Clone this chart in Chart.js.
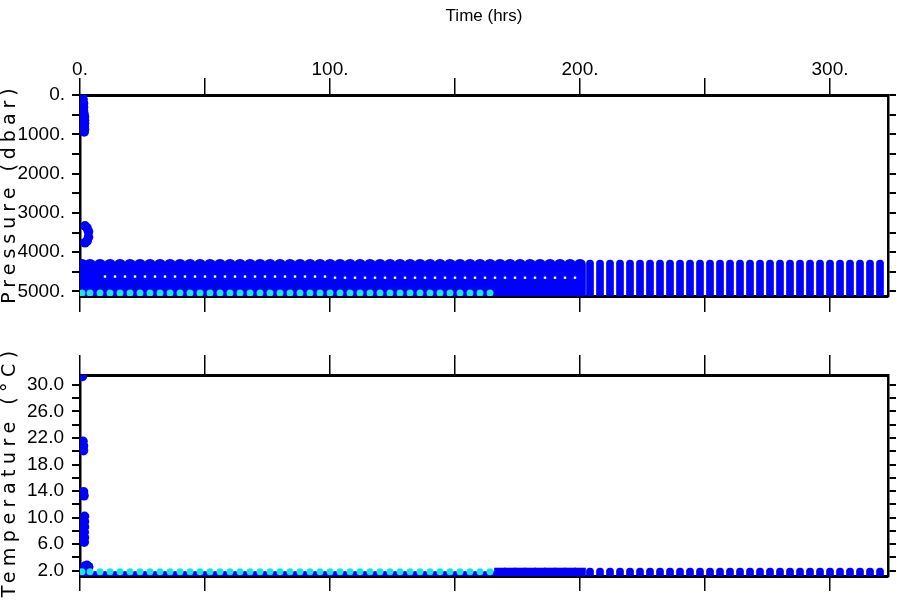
<!DOCTYPE html>
<html>
<head>
<meta charset="utf-8">
<script src="https://cdn.jsdelivr.net/npm/chart.js@4.4.1/dist/chart.umd.min.js"></script>
<style>
  html, body { margin: 0; padding: 0; background: #fff; }
  #wrap { position: relative; width: 900px; height: 600px; overflow: hidden; }
  canvas { position: absolute; left: 0; }
  #pres { top: 0; }
  #temp { top: 340px; }
</style>
</head>
<body>
<div id="wrap">
  <canvas id="pres" width="900" height="340"></canvas>
  <canvas id="temp" width="900" height="260"></canvas>
</div>
<script>
// ---- data ----
const timeTicks = [0, 50, 100, 150, 200, 250, 300];
const timeLabels = [0, 100, 200, 300];
const pressureTicks = [0, 500, 1000, 1500, 2000, 2500, 3000, 3500, 4000, 4500, 5000];
const pressureLabels = [0, 1000, 2000, 3000, 4000, 5000];
const tempTicks = [2, 4, 6, 8, 10, 12, 14, 16, 18, 20, 22, 24, 26, 28, 30];
const tempLabels = [2, 6, 10, 14, 18, 22, 26, 30];

// first descent samples
const earlyTime     = [1.0, 1.2, 1.4, 1.4, 1.4, 1.6, 1.8, 1.8, 1.8, 1.7, 1.8, 1.7, 2.0, 2.8, 3.4, 3.4, 2.8, 2.0];
const earlyPressure = [10, 110, 210, 310, 400, 480, 560, 640, 720, 800, 880, 940, 3330, 3380, 3480, 3620, 3720, 3760];
const earlyTemp     = [31.3, 21.5, 20.8, 20.1, 13.9, 13.3, 10.2, 9.4, 8.6, 7.8, 7.0, 6.3, 2.7, 2.8, 2.6, 2.5, 2.5, 2.4];

// cycles up to 200 hrs (touching columns)
const mergedTimes = [0.8, 4, 8, 12, 16, 20, 24, 28, 32, 36, 40, 44, 48, 52, 56, 60, 64, 68, 72, 76,
  80, 84, 88, 92, 96, 100, 104, 108, 112, 116, 120, 124, 128, 132, 136, 140, 144, 148, 152, 156,
  160, 164, 168, 172, 176, 180, 184, 188, 192, 196, 200];
const mergedTopPressure = [4180, 4180, 4180, 4180, 4180, 4180, 4180, 4180, 4180, 4180, 4180, 4180, 4180,
  4180, 4180, 4180, 4180, 4180, 4180, 4180, 4180, 4180, 4180, 4180, 4180, 4180, 4180, 4180, 4180, 4180,
  4180, 4180, 4180, 4180, 4180, 4180, 4180, 4180, 4180, 4180, 4180, 4180, 4180, 4180, 4180, 4180, 4180,
  4180, 4180, 4180, 4180];
const mergedTopTemp = [1.85, 1.85, 1.85, 1.85, 1.85, 1.85, 1.85, 1.85, 1.85, 1.85, 1.85, 1.85, 1.85, 1.85,
  1.85, 1.85, 1.85, 1.85, 1.85, 1.85, 1.85, 1.85, 1.85, 1.85, 1.85, 1.85, 1.85, 1.85, 1.85, 1.85, 1.85,
  1.85, 1.85, 1.85, 1.85, 1.85, 1.85, 1.85, 1.85, 1.85, 1.85, 1.85,
  2.4, 2.4, 2.4, 2.4, 2.4, 2.4, 2.4, 2.4, 2.4];

// cycles after 200 hrs (separate columns)
const separateTimes = [204, 208, 212, 216, 220, 224, 228, 232, 236, 240, 244, 248, 252, 256, 260,
  264, 268, 272, 276, 280, 284, 288, 292, 296, 300, 304, 308, 312, 316, 320];
const separateTopPressure = [4200, 4200, 4200, 4200, 4200, 4200, 4200, 4200, 4200, 4200, 4200, 4200,
  4200, 4200, 4200, 4200, 4200, 4200, 4200, 4200, 4200, 4200, 4200, 4200, 4200, 4200, 4200, 4200, 4200, 4200];
const separateTopTemp = [2.4, 2.4, 2.4, 2.4, 2.4, 2.4, 2.4, 2.4, 2.4, 2.4, 2.4, 2.4, 2.4, 2.4, 2.4,
  2.4, 2.4, 2.4, 2.4, 2.4, 2.4, 2.4, 2.4, 2.4, 2.4, 2.4, 2.4, 2.4, 2.4, 2.4];

// white markers (mid column)
const whiteTimes = [10, 14, 18, 22, 26, 30, 34, 38, 42, 46, 50, 54, 58, 62, 66, 70, 74, 78, 82, 86, 90,
  94, 98, 102, 106, 110, 114, 118, 122, 126, 130, 134, 138, 142, 146, 150, 154, 158, 162, 166, 170,
  174, 178, 182, 186, 190, 194, 198];
const whitePressure = [4620, 4620, 4620, 4620, 4620, 4620, 4620, 4620, 4620, 4620, 4620, 4620, 4620,
  4620, 4620, 4620, 4620, 4620, 4620, 4620, 4620, 4620, 4620, 4650, 4650, 4650, 4650, 4650, 4650, 4650,
  4650, 4650, 4650, 4650, 4650, 4650, 4650, 4650, 4650, 4650, 4650, 4650, 4650, 4650, 4650, 4650, 4650, 4650];

// cyan markers (bottom)
const cyanTimes = [0.8, 4, 8, 12, 16, 20, 24, 28, 32, 36, 40, 44, 48, 52, 56, 60, 64, 68, 72, 76,
  80, 84, 88, 92, 96, 100, 104, 108, 112, 116, 120, 124, 128, 132, 136, 140, 144, 148, 152, 156, 160, 164];
const cyanPressure = [5040, 5040, 5040, 5040, 5040, 5040, 5040, 5040, 5040, 5040, 5040, 5040, 5040, 5040,
  5040, 5040, 5040, 5040, 5040, 5040, 5040, 5040, 5040, 5040, 5040, 5040, 5040, 5040, 5040, 5040, 5040,
  5040, 5040, 5040, 5040, 5040, 5040, 5040, 5040, 5040, 5040, 5040];
const cyanTemp = [1.85, 1.85, 1.85, 1.85, 1.85, 1.85, 1.85, 1.85, 1.85, 1.85, 1.85, 1.85, 1.85, 1.85,
  1.85, 1.85, 1.85, 1.85, 1.85, 1.85, 1.85, 1.85, 1.85, 1.85, 1.85, 1.85, 1.85, 1.85, 1.85, 1.85, 1.85,
  1.85, 1.85, 1.85, 1.85, 1.85, 1.85, 1.85, 1.85, 1.85, 1.85, 1.85];

const pressureBottom = 5115;
const tempBottom = 1.2;

// ---- styling ----
const tickFont = "'Liberation Sans', Arimo, sans-serif";
const blue = '#0000ff';
const cyan = '#1ee3ec';
Chart.defaults.font.family = tickFont;
Chart.defaults.color = '#000';

function fixSize(px) {
  return function (scale) {
    if (scale.isHorizontal()) scale.height = px; else scale.width = px;
  };
}
function setTicks(values) {
  return function (scale) { scale.ticks = values.map(v => ({ value: v })); };
}
function pts(xs, ys) { return xs.map((x, i) => ({ x: x, y: ys[i] })); }
function bars(xs, tops, base) { return xs.map((x, i) => ({ x: x, y: [tops[i], base] })); }

const sideTitle = {
  id: 'sideTitle',
  afterDraw(chart, args, opts) {
    const ctx = chart.ctx;
    ctx.save();
    ctx.translate(opts.x, opts.y);
    ctx.rotate(-Math.PI / 2);
    ctx.font = "19px 'DejaVu Sans'";
    ctx.letterSpacing = opts.spacing + 'px';
    ctx.fillStyle = '#000';
    ctx.textAlign = 'center';
    ctx.textBaseline = 'middle';
    ctx.fillText(opts.text, opts.spacing / 2, 0);
    ctx.restore();
  }
};

function xAxis(pos, size, tickLen, withLabels) {
  return {
    type: 'linear', position: pos, min: 0, max: 323.2, offset: false, z: 1,
    afterBuildTicks: setTicks(timeTicks), afterFit: fixSize(size),
    ticks: {
      display: withLabels, autoSkip: false, maxRotation: 0, padding: -3,
      font: { size: 19 },
      callback: v => timeLabels.includes(v) ? v + '.' : ''
    },
    grid: { drawOnChartArea: false, drawTicks: true, tickLength: tickLen, color: '#000', lineWidth: 1.5, offset: false },
    border: { display: true, color: '#000', width: 3 }
  };
}
function yAxis(pos, min, max, rev, tickVals, labelFn, size, pad) {
  return {
    type: 'linear', position: pos, min: min, max: max, reverse: rev, z: 1,
    afterBuildTicks: setTicks(tickVals), afterFit: fixSize(size),
    ticks: { display: !!labelFn, autoSkip: false, padding: pad, font: { size: 19 }, callback: labelFn || (() => '') },
    grid: { drawOnChartArea: false, drawTicks: true, tickLength: 8, color: '#000', lineWidth: 2 },
    border: { display: true, color: '#000', width: 2.5 }
  };
}

const baseOptions = {
  responsive: false, animation: false, devicePixelRatio: 1,
  layout: { padding: 0 },
  plugins: { legend: { display: false }, tooltip: { enabled: false } }
};

// ---- pressure panel ----
const xTop = xAxis('top', 95, 17, true);
xTop.title = { display: true, text: 'Time (hrs)', font: { size: 17 }, padding: { top: 6, bottom: 0 } };

new Chart(document.getElementById('pres'), {
  type: 'bar',
  data: {
    datasets: [
      { type: 'scatter', data: pts(cyanTimes, cyanPressure), pointRadius: 3.5, backgroundColor: cyan, borderWidth: 0, clip: 0 },
      { type: 'scatter', data: pts(whiteTimes, whitePressure), pointStyle: 'rect', pointRadius: 1.7, backgroundColor: '#fff', borderWidth: 0, clip: 0 },
      { type: 'scatter', data: pts(earlyTime, earlyPressure), pointRadius: 4.8, backgroundColor: blue, borderWidth: 0, clip: 0 },
      { type: 'bar', data: bars(mergedTimes, mergedTopPressure, pressureBottom), barThickness: 11, grouped: false,
        borderSkipped: false, borderRadius: { topLeft: 5.5, topRight: 5.5, bottomLeft: 0, bottomRight: 0 },
        backgroundColor: blue, clip: 0 },
      { type: 'bar', data: bars(separateTimes, separateTopPressure, pressureBottom), barThickness: 7, grouped: false,
        borderSkipped: false, borderRadius: { topLeft: 3.5, topRight: 3.5, bottomLeft: 0, bottomRight: 0 },
        backgroundColor: blue, clip: 0 }
    ]
  },
  options: Object.assign({}, baseOptions, {
    plugins: Object.assign({}, baseOptions.plugins, {
      sideTitle: { text: 'Pressure (dbar)', x: 10, y: 196, spacing: 5 }
    }),
    scales: {
      x: xTop,
      x2: xAxis('bottom', 44, 16, false),
      y: yAxis('left', 0, 5115, true, pressureTicks, v => pressureLabels.includes(v) ? v + '.' : '', 80, 7),
      y2: yAxis('right', 0, 5115, true, pressureTicks, null, 12, 0)
    }
  }),
  plugins: [sideTitle]
});

// ---- temperature panel ----
new Chart(document.getElementById('temp'), {
  type: 'bar',
  data: {
    datasets: [
      { type: 'scatter', data: pts(cyanTimes, cyanTemp), pointRadius: 3.5, backgroundColor: cyan, borderWidth: 0, clip: 0 },
      { type: 'scatter', data: pts(earlyTime, earlyTemp), pointRadius: 4.8, backgroundColor: blue, borderWidth: 0, clip: 0 },
      { type: 'bar', data: bars(mergedTimes, mergedTopTemp, tempBottom), barThickness: 11, grouped: false,
        borderSkipped: false, borderRadius: 0, backgroundColor: blue, clip: 0 },
      { type: 'bar', data: bars(separateTimes, separateTopTemp, tempBottom), barThickness: 7, grouped: false,
        borderSkipped: false, borderRadius: { topLeft: 3.5, topRight: 3.5, bottomLeft: 0, bottomRight: 0 },
        backgroundColor: blue, clip: 0 }
    ]
  },
  options: Object.assign({}, baseOptions, {
    plugins: Object.assign({}, baseOptions.plugins, {
      sideTitle: { text: 'Temperature (°C)', x: 10, y: 134, spacing: 5.5 }
    }),
    scales: {
      x: xAxis('top', 35, 20, false),
      x2: xAxis('bottom', 24, 15, false),
      y: yAxis('left', 1.2, 31.5, false, tempTicks, v => tempLabels.includes(v) ? v.toFixed(1) : '', 80, 8),
      y2: yAxis('right', 1.2, 31.5, false, tempTicks, null, 12, 0)
    }
  }),
  plugins: [sideTitle]
});
</script>
</body>
</html>
